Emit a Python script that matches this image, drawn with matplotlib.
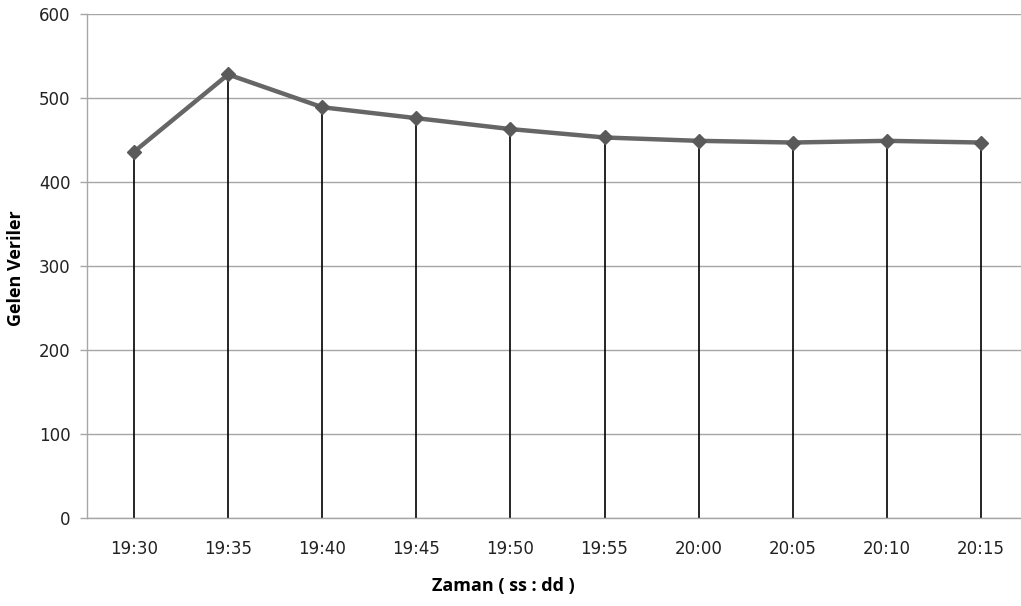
import matplotlib.pyplot as plt
import numpy as np

times = ["19:30", "19:35", "19:40", "19:45", "19:50",
         "19:55", "20:00", "20:05", "20:10", "20:15"]
values = [436, 528, 489, 476, 463, 453, 449, 447, 449, 447]
y_ticks = [0, 100, 200, 300, 400, 500, 600]

fig = plt.figure(figsize=(10.21, 6.06), dpi=100)
# plot area runs a bit past the right edge of the image, as in the original
ax = fig.add_axes([87 / 1021, 88 / 606, 941 / 1021, 504 / 606])

x = np.arange(len(times))
ax.vlines(x, 0, values, color="black", linewidth=1.2, zorder=2)
ax.plot(x, values, color="#666666", linewidth=3.2, marker="D",
        markersize=7.5, markerfacecolor="#5a5a5a", markeredgecolor="#5a5a5a",
        zorder=3)

ax.set_xlim(-0.5, len(times) - 0.5)
ax.set_ylim(0, 600)
ax.set_yticks(y_ticks)
ax.set_xticks(x)
ax.set_xticklabels(times)
ax.grid(axis="y", color="#a6a6a6", linewidth=1.0, zorder=1)
ax.set_axisbelow(True)

for side in ("top", "right"):
    ax.spines[side].set_visible(False)
for side in ("left", "bottom"):
    ax.spines[side].set_color("#a6a6a6")
    ax.spines[side].set_linewidth(1.0)

ax.tick_params(axis="y", length=5, width=1.0, color="#a6a6a6",
               labelsize=12, labelcolor="#222222", pad=7)
ax.tick_params(axis="x", length=0, labelsize=12, labelcolor="#222222", pad=16)

ax.set_xlabel("Zaman ( ss : dd )", fontsize=13, fontweight="bold",
              family="Open Sans")
ax.set_ylabel("Gelen Veriler", fontsize=13, fontweight="bold",
              family="Open Sans")
ax.xaxis.set_label_coords(0.442, -0.117)
ax.yaxis.set_label_coords(-0.066, 0.496)

fig.savefig("out.png", dpi=100)
